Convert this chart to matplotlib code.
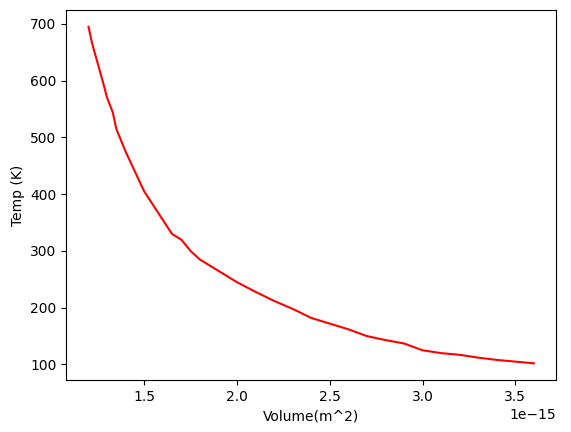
import matplotlib
matplotlib.use("Agg")
import matplotlib.pyplot as plt
import numpy as np

volume = [1.20, 1.22, 1.25, 1.28, 1.30, 1.33, 1.35, 1.40, 1.45, 1.50, 1.55, 1.60, 1.65, 1.70,
          1.75, 1.80, 1.90, 2.00, 2.10, 2.20, 2.30, 2.40, 2.50, 2.60, 2.70, 2.80, 2.90,
          3.00, 3.10, 3.20, 3.30, 3.40, 3.50, 3.60]
temp = [695, 665, 630, 595, 570, 545, 515, 475, 440, 405, 380, 355, 330, 320,
        300, 285, 265, 245, 228, 212, 198, 182, 172, 162, 150, 143, 137,
        125, 120, 117, 112, 108, 105, 102]

fig, ax = plt.subplots(figsize=(5.71, 4.32), dpi=100)
ax.plot(np.array(volume) * 1e-15, temp, color="red")
ax.set_xlabel("Volume(m^2)")
ax.set_ylabel("Temp (K)")
fig.subplots_adjust(left=0.116, right=0.974, top=0.977, bottom=0.12)
fig.savefig("out.png")
